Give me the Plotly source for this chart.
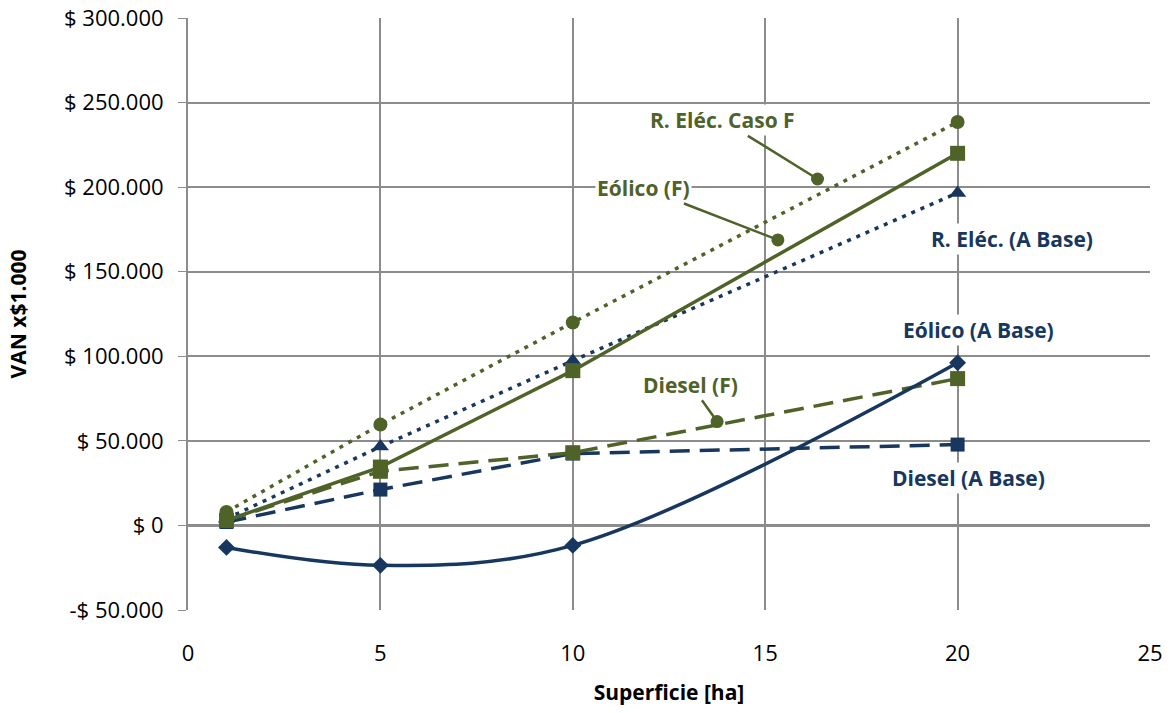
import plotly.graph_objects as go

# Superficie [ha]
superficie = [1, 5, 10, 20]

# VAN (x $1.000) per scenario
eolico_base = [-13000, -23600, -11800, 96200]
diesel_base = [2000, 21200, 42500, 47800]
relec_base = [4000, 46600, 97400, 196600]
relec_f = [8000, 59600, 120000, 238500]
eolico_f = [3000, 34500, 91500, 220000]
diesel_f = [3000, 32000, 43000, 86800]

y_ticks = [-50000, 0, 50000, 100000, 150000, 200000, 250000, 300000]
y_tick_text = ["-$ 50.000", "$ 0", "$ 50.000", "$ 100.000", "$ 150.000",
               "$ 200.000", "$ 250.000", "$ 300.000"]
x_ticks = [0, 5, 10, 15, 20, 25]

BLUE = "#17375E"
GREEN = "#4F6228"
GRID = "#8C8C8C"
FONT = "Open Sans"
DASH = "20px,10px"
DOT = "4px,6px"

fig = go.Figure()

series = [
    ("Diesel (A Base)", diesel_base, BLUE, DASH, "square", 14, "linear"),
    ("Diesel (F)", diesel_f, GREEN, DASH, "square", 15, "linear"),
    ("R. Eléc. (A Base)", relec_base, BLUE, DOT, "triangle-up", 15, "linear"),
    ("R. Eléc. Caso F", relec_f, GREEN, DOT, "circle", 14, "linear"),
    ("Eólico (F)", eolico_f, GREEN, "solid", "square", 15, "linear"),
    ("Eólico (A Base)", eolico_base, BLUE, "solid", "diamond", 13, "spline"),
]

for name, vals, color, dash, symbol, size, shape in series:
    fig.add_trace(go.Scatter(
        x=superficie, y=vals, name=name, mode="lines+markers",
        line=dict(color=color, width=3.5, dash=dash, shape=shape, smoothing=1.0),
        marker=dict(symbol=symbol, size=size, color=color),
        showlegend=False,
    ))

# Series labels
labels = [
    # text, x, y, color, arrow head (x, y) or None
    ("R. Eléc. Caso F", 13.90, 239500, GREEN, (16.36, 204800)),
    ("Eólico (F)", 11.85, 199500, GREEN, (15.33, 168800)),
    ("Diesel (F)", 13.07, 83200, GREEN, (13.75, 61400)),
    ("R. Eléc. (A Base)", 21.42, 169500, BLUE, None),
    ("Eólico (A Base)", 20.55, 115600, BLUE, None),
    ("Diesel (A Base)", 20.28, 28300, BLUE, None),
]
for text, tx, ty, color, head in labels:
    font = dict(family=FONT, size=21, color=color, weight="bold")
    if head is None:
        fig.add_annotation(x=tx, y=ty, text=text, showarrow=False, font=font,
                           bgcolor="white")
    else:
        fig.add_annotation(x=head[0], y=head[1], ax=tx, ay=ty, axref="x", ayref="y",
                           text=text, showarrow=True, arrowhead=6, arrowsize=1.3,
                           arrowwidth=2.5, arrowcolor=color, standoff=0,
                           font=font, bgcolor="white")

fig.update_layout(
    width=1172, height=713,
    margin=dict(l=188, r=22, t=18, b=103, autoexpand=False),
    plot_bgcolor="white", paper_bgcolor="white",
    font=dict(family=FONT, size=22, color="#000000"),
)
fig.update_xaxes(
    range=[0, 25], tickvals=x_ticks, showgrid=True, gridcolor=GRID, gridwidth=1.5,
    zeroline=False, showline=False, ticks="", tickfont=dict(size=22),
    ticklabelstandoff=28, automargin=False,
    title=dict(text="Superficie [ha]", font=dict(size=21, weight="bold"), standoff=19),
)
fig.update_yaxes(
    range=[-50000, 300000], tickvals=y_ticks, ticktext=y_tick_text,
    showgrid=True, gridcolor=GRID, gridwidth=1.5,
    zeroline=True, zerolinecolor=GRID, zerolinewidth=3,
    showline=True, linecolor=GRID, linewidth=2, ticks="outside", ticklen=8,
    tickcolor=GRID, tickfont=dict(size=22), ticklabelstandoff=10, automargin=False,
    title=dict(text="VAN x$1.000", font=dict(size=21, weight="bold"), standoff=32),
)

fig.write_html("out.html")
